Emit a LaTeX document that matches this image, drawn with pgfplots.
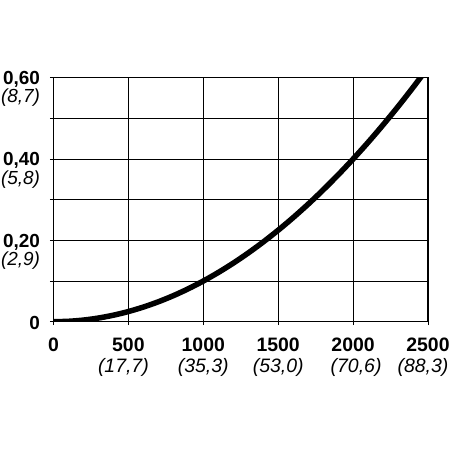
\documentclass[border=0pt]{standalone}
\usepackage{pgfplots}
\pgfplotsset{compat=1.18}
\usepackage{fontspec}
\setmainfont{Liberation Sans}
\begin{document}
\begin{tikzpicture}
% page = 450bp x 450bp around the axis box (axis south west at origin)
\useasboundingbox (-53.5bp,-128.3bp) rectangle (396.5bp,321.7bp);
\begin{axis}[
    anchor=south west, at={(0,0)},
    scale only axis,
    width=374.5bp, height=244bp,
    xmin=0, xmax=2500, ymin=0, ymax=0.6,
    xtick={0,500,1000,1500,2000,2500},
    xticklabels={{\textbf{0}},
        {\textbf{500}\\\hspace*{-10bp}\textit{(17,7)}},
        {\textbf{1000}\\\textit{(35,3)}},
        {\textbf{1500}\\\textit{(53,0)}},
        {\textbf{2000}\\\hspace*{6bp}\textit{(70,6)}},
        {\textbf{2500}\\\hspace*{-10bp}\textit{(88,3)}}},
    ytick={0,0.2,0.4,0.6},
    minor ytick={0.1,0.3,0.5},
    yticklabels={{\textbf{0}},
        {\textbf{0,20}\smash{\llap{\raisebox{-18.5bp}{\textit{(2,9)}}}}},
        {\textbf{0,40}\smash{\llap{\raisebox{-18.5bp}{\textit{(5,8)}}}}},
        {\textbf{0,60}\smash{\llap{\raisebox{-18.5bp}{\textit{(8,7)}}}}}},
    grid=both,
    grid style={black, line width=0.8bp},
    minor grid style={black, line width=0.8bp},
    axis line style={line width=1.4bp},
    tick pos=left,
    tick align=outside,
    major tick length=3.5bp, minor tick length=3.5bp,
    tick style={black, line width=1bp},
    xticklabel style={align=center, font=\fontsize{19.5}{21}\selectfont, yshift=-9bp},
    yticklabel style={font=\fontsize{19}{21}\selectfont, xshift=-6.5bp, yshift=-1.5bp},
]
\addplot[black, line width=5.5bp, smooth] coordinates {
    (0,0) (100,0.001) (200,0.004) (300,0.009) (400,0.016) (500,0.025)
    (600,0.036) (700,0.049) (800,0.064) (900,0.081) (1000,0.100)
    (1100,0.121) (1200,0.144) (1300,0.169) (1400,0.196) (1500,0.225)
    (1600,0.256) (1700,0.289) (1800,0.324) (1900,0.361) (2000,0.400)
    (2100,0.441) (2200,0.484) (2300,0.529) (2400,0.576) (2500,0.625)
};
\end{axis}
\end{tikzpicture}
\end{document}
